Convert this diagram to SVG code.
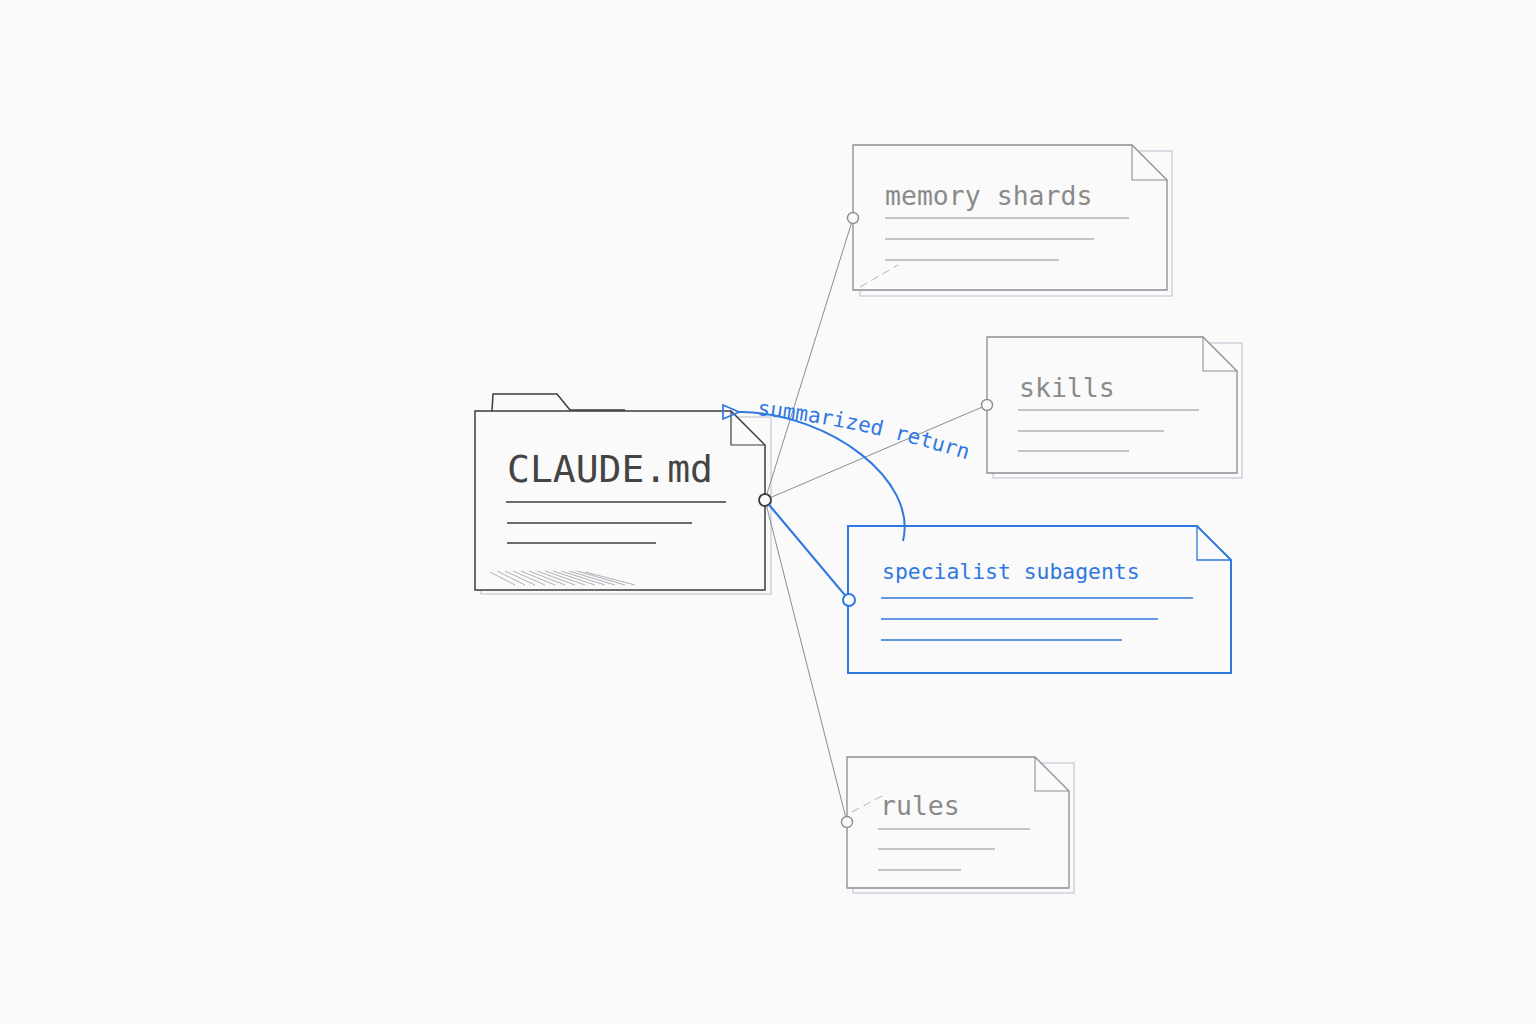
<svg xmlns="http://www.w3.org/2000/svg" width="1536" height="1024" viewBox="0 0 1536 1024">
<defs>
<style>
.bg{fill:#fafafa}
.doc{fill:#fafafa;stroke:#8a8d94;stroke-width:1.3}
.shadow{fill:none;stroke:#c3c8d2;stroke-width:1.2}
.ear{fill:none;stroke:#8a8d94;stroke-width:1.1}
.ln{stroke:#8a8d94;stroke-width:1.2}
.lbl{font-family:"DejaVu Sans Mono","Liberation Mono",monospace;fill:#8a8a8a;font-size:26.5px}
.main{fill:#fafafa;stroke:#3c3c3c;stroke-width:1.5}
.mainln{stroke:#3c3c3c;stroke-width:1.3}
.blue{fill:#fafafa;stroke:#2f78e0;stroke-width:2}
.blueln{stroke:#2f78e0;stroke-width:1.3}
.conn{stroke:#8a8d94;stroke-width:1;fill:none}
.dot{fill:#fafafa;stroke:#8a8d94;stroke-width:1.4}
</style>
<marker id="arr" viewBox="0 0 18 16" refX="1" refY="8" markerWidth="18" markerHeight="16" markerUnits="userSpaceOnUse" orient="auto">
<path d="M17 1 L1 8 L17 15 Z" fill="none" stroke="#2f78e0" stroke-width="1.7"/>
</marker>
</defs>
<rect class="bg" width="1536" height="1024"/>

<g id="claude-md">
<rect class="shadow" x="481" y="417" width="290" height="177"/>
<path class="main" d="M492 411 L493 394 L557 394 L570 410 L625 410"/>
<path class="main" d="M475 411 L731 411 L765 445 L765 590 L475 590 Z"/>
<path fill="none" stroke="#3c3c3c" stroke-width="1.2" d="M731 411 L731 445 L765 445"/>
<text x="507" y="482" font-family="DejaVu Sans Mono, Liberation Mono, monospace" font-size="38" fill="#444">CLAUDE.md</text>
<line class="mainln" x1="506" y1="502" x2="726" y2="502"/>
<line class="mainln" x1="507" y1="523" x2="692" y2="523"/>
<line class="mainln" x1="507" y1="543" x2="656" y2="543"/>
<g stroke="#9a9da4" stroke-width="0.8">
<line x1="490" y1="572" x2="515" y2="585"/>
<line x1="497" y1="571" x2="525" y2="585"/>
<line x1="505" y1="571" x2="535" y2="585"/>
<line x1="513" y1="571" x2="545" y2="585"/>
<line x1="521" y1="571" x2="555" y2="585"/>
<line x1="529" y1="571" x2="565" y2="585"/>
<line x1="537" y1="571" x2="575" y2="585"/>
<line x1="545" y1="571" x2="585" y2="585"/>
<line x1="553" y1="571" x2="595" y2="585"/>
<line x1="561" y1="571" x2="605" y2="585"/>
<line x1="569" y1="571" x2="615" y2="585"/>
<line x1="577" y1="571" x2="625" y2="585"/>
<line x1="585" y1="572" x2="635" y2="585"/>
</g>
<circle cx="765" cy="500" r="6" fill="#fafafa" stroke="#3c3c3c" stroke-width="1.8"/>
</g>

<g id="memory-shards">
<rect class="shadow" x="860" y="151" width="312" height="145"/>
<path class="doc" d="M853 145 L1132 145 L1167 180 L1167 290 L853 290 Z"/>
<path class="ear" d="M1132 145 L1132 180 L1167 180"/>
<text class="lbl" x="885" y="205">memory shards</text>
<line class="ln" x1="885" y1="218" x2="1129" y2="218"/>
<line class="ln" x1="885" y1="239" x2="1094" y2="239"/>
<line class="ln" x1="885" y1="260" x2="1059" y2="260"/>
<line x1="860" y1="287" x2="898" y2="265" stroke="#b0b4bc" stroke-width="1" stroke-dasharray="8 5"/>
<circle class="dot" cx="853" cy="218" r="5.5"/>
</g>

<g id="skills">
<rect class="shadow" x="993" y="343" width="249" height="135"/>
<path class="doc" d="M987 337 L1203 337 L1237 371 L1237 473 L987 473 Z"/>
<path class="ear" d="M1203 337 L1203 371 L1237 371"/>
<text class="lbl" x="1019" y="397">skills</text>
<line class="ln" x1="1018" y1="410" x2="1199" y2="410"/>
<line class="ln" x1="1018" y1="431" x2="1164" y2="431"/>
<line class="ln" x1="1018" y1="451" x2="1129" y2="451"/>
<circle class="dot" cx="987" cy="405" r="5.5"/>
</g>

<g id="specialist-subagents">
<path class="blue" d="M848 526 L1197 526 L1231 560 L1231 673 L848 673 Z"/>
<path fill="none" stroke="#2f78e0" stroke-width="1.3" d="M1197 526 L1197 560 L1231 560"/>
<text x="882" y="579" font-family="DejaVu Sans Mono, Liberation Mono, monospace" font-size="21.4" fill="#2f78e0">specialist subagents</text>
<line class="blueln" x1="881" y1="598" x2="1193" y2="598"/>
<line class="blueln" x1="881" y1="619" x2="1158" y2="619"/>
<line class="blueln" x1="881" y1="640" x2="1122" y2="640"/>
<circle cx="849" cy="600" r="6" fill="#fafafa" stroke="#2f78e0" stroke-width="2"/>
</g>

<g id="rules">
<rect class="shadow" x="853" y="763" width="221" height="130"/>
<path class="doc" d="M847 757 L1035 757 L1069 791 L1069 888 L847 888 Z"/>
<path class="ear" d="M1035 757 L1035 791 L1069 791"/>
<text class="lbl" x="880" y="815">rules</text>
<line class="ln" x1="878" y1="829" x2="1030" y2="829"/>
<line class="ln" x1="878" y1="849" x2="995" y2="849"/>
<line class="ln" x1="878" y1="870" x2="961" y2="870"/>
<line x1="852" y1="812" x2="882" y2="796" stroke="#b0b4bc" stroke-width="1" stroke-dasharray="8 5"/>
<circle class="dot" cx="847" cy="822" r="5.5"/>
</g>

<g id="connectors">
<line class="conn" x1="766.8" y1="494.3" x2="851.4" y2="223.3"/>
<line class="conn" x1="770.5" y1="497.6" x2="981.9" y2="407.2"/>
<line class="conn" x1="766.5" y1="505.8" x2="845.6" y2="816.7"/>
<line x1="768.9" y1="504.6" x2="845.1" y2="595.4" stroke="#2f78e0" stroke-width="2.2"/>
<path d="M903 541 C 918 480, 830 414, 742 412 L 739 412" fill="none" stroke="#2f78e0" stroke-width="2" marker-end="url(#arr)"/>
<path id="tp" d="M757 415 Q 864 426 978 463" fill="none"/>
<text font-family="DejaVu Sans Mono, Liberation Mono, monospace" font-size="21" fill="#2f78e0"><textPath href="#tp">summarized return</textPath></text>
</g>
</svg>
